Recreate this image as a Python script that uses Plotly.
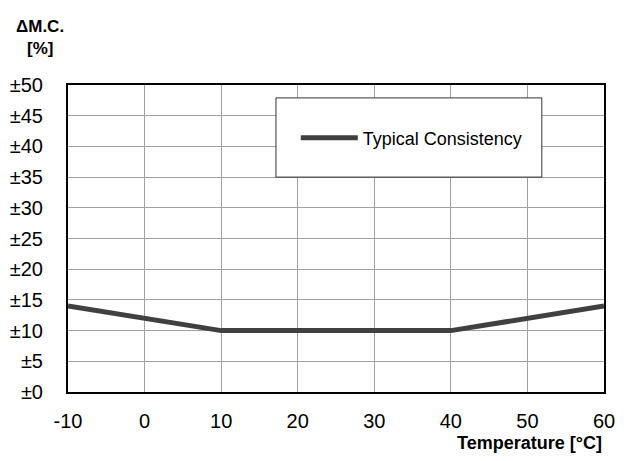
import plotly.graph_objects as go

temperature = [-10, 10, 40, 60]
consistency = [14, 10, 10, 14]
x_ticks = [-10, 0, 10, 20, 30, 40, 50, 60]
x_tick_labels = ["-10", "0", "10", "20", "30", "40", "50", "60"]
y_ticks = list(range(0, 51, 5))
y_tick_labels = ["\u00b1%d" % v for v in y_ticks]

FONT = "Liberation Sans Narrow, Arial Narrow, Liberation Sans, Arial, sans-serif"

fig = go.Figure()
fig.add_trace(go.Scatter(
    x=temperature, y=consistency, mode="lines",
    name="Typical Consistency",
    line=dict(color="#404040", width=5),
))

fig.update_layout(
    width=628, height=461,
    margin=dict(l=60, r=32, t=77, b=77, autoexpand=False),
    paper_bgcolor="white", plot_bgcolor="white",
    font=dict(family=FONT, size=20, color="black"),
    showlegend=True,
    legend=dict(
        x=0.425, y=0.827, xanchor="left", yanchor="middle",
        bgcolor="rgba(0,0,0,0)", borderwidth=0,
        font=dict(family=FONT, size=18, color="black"),
        itemwidth=57,
    ),
    shapes=[dict(
        type="rect", xref="paper", yref="paper",
        x0=0.388, x1=0.884, y0=0.700, y1=0.958,
        fillcolor="white", line=dict(color="#333333", width=1), layer="above",
    )],
    xaxis=dict(
        range=[-10, 60], tickmode="array", tickvals=x_ticks, ticktext=x_tick_labels,
        showgrid=True, gridcolor="#a0a0a0", gridwidth=1,
        showline=True, linecolor="black", linewidth=2, mirror=True,
        zeroline=False, ticks="", ticklabelstandoff=10, automargin=False,
    ),
    yaxis=dict(
        range=[0, 50], tickmode="array", tickvals=y_ticks, ticktext=y_tick_labels,
        showgrid=True, gridcolor="#a0a0a0", gridwidth=1,
        showline=True, linecolor="black", linewidth=2, mirror=True,
        zeroline=False, ticks="", ticklabelstandoff=19, automargin=False,
    ),
    annotations=[
        dict(text="<b>\u0394M.C.</b>", xref="paper", yref="paper",
             x=-0.052, y=1.192, xanchor="center", yanchor="middle",
             showarrow=False, font=dict(family=FONT, size=17, color="black")),
        dict(text="<b>[%]</b>", xref="paper", yref="paper",
             x=-0.052, y=1.12, xanchor="center", yanchor="middle",
             showarrow=False, font=dict(family=FONT, size=17, color="black")),
        dict(text="<b>Temperature [\u00b0C]</b>", xref="paper", yref="paper",
             x=1.0, y=-0.166, xanchor="right", yanchor="middle",
             showarrow=False, font=dict(family=FONT, size=18, color="black")),
    ],
)

fig.write_html("out.html")
